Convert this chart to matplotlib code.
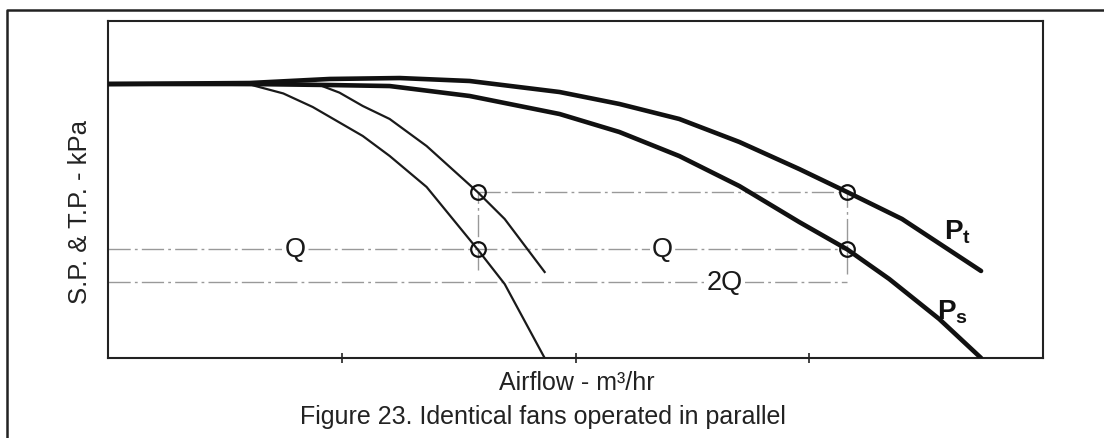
import matplotlib
matplotlib.use("Agg")
import matplotlib.pyplot as plt
from matplotlib.lines import Line2D

plt.rcParams['font.family'] = ['Liberation Sans', 'DejaVu Sans']
plt.rcParams['mathtext.fontset'] = 'custom'
plt.rcParams['mathtext.rm'] = 'Liberation Sans'
plt.rcParams['mathtext.it'] = 'Liberation Sans'
plt.rcParams['mathtext.bf'] = 'Liberation Sans:bold'

# curve data (airflow, pressure)
one_ps_x = [0, 0.615, 0.75, 0.876, 1.090, 1.205, 1.363, 1.581, 1.697, 1.868]
one_ps_y = [3.252, 3.240, 3.14, 2.979, 2.635, 2.398, 2.030, 1.29, 0.878, 0.0]

one_pt_x = [0, 0.893, 0.99, 1.090, 1.205, 1.363, 1.581, 1.697, 1.868]
one_pt_y = [3.252, 3.252, 3.15, 2.991, 2.837, 2.516, 1.970, 1.650, 1.021]

two_pt_x = [0, 0.607, 0.949, 1.248, 1.547, 1.932, 2.188, 2.444, 2.701, 2.957, 3.162, 3.397, 3.735]
two_pt_y = [3.252, 3.264, 3.312, 3.323, 3.288, 3.157, 3.015, 2.837, 2.564, 2.243, 1.970, 1.650, 1.033]

two_ps_x = [0, 0.607, 0.949, 1.205, 1.547, 1.932, 2.188, 2.444, 2.701, 2.957, 3.162, 3.342, 3.556, 3.735]
two_ps_y = [3.252, 3.252, 3.240, 3.228, 3.110, 2.896, 2.682, 2.397, 2.041, 1.614, 1.29, 0.938, 0.463, 0.0]

# operating points
q_single = 1.581
q_double = 3.162
p_low = 1.29
p_high = 1.970
p_2q = 0.902

fig = plt.figure(figsize=(11.04, 4.39), dpi=100)
ax = fig.add_axes([108/1104, 1 - 359/439, 935/1104, 337/439])
ax.set_xlim(0, 4)
ax.set_ylim(0, 4)

guide = dict(color='#999999', lw=1.0, ls=(0, (16, 3, 2, 3)), zorder=1)
ax.plot([0, q_double], [p_low, p_low], **guide)
ax.plot([0, q_double], [p_2q, p_2q], **guide)
ax.plot([q_single, q_double], [p_high, p_high], **guide)
ax.plot([q_single, q_single], [1.045, p_high], **guide)
ax.plot([q_double, q_double], [0.997, p_high], **guide)

ax.plot(one_ps_x, one_ps_y, color='#1a1a1a', lw=1.6, zorder=3)
ax.plot(one_pt_x, one_pt_y, color='#1a1a1a', lw=1.6, zorder=3)
ax.plot(two_pt_x, two_pt_y, color='#111111', lw=3.3, zorder=3, solid_capstyle='round')
ax.plot(two_ps_x, two_ps_y, color='#111111', lw=3.3, zorder=3, solid_capstyle='round')

ax.plot([q_single, q_single, q_double, q_double], [p_high, p_low, p_high, p_low],
        ls='none', marker='o', ms=10.5, mfc='none', mec='#111111', mew=1.6, zorder=4)

lbl = dict(fontsize=19.5, ha='center', va='center', color='#1a1a1a', zorder=2,
           bbox=dict(facecolor='white', edgecolor='none', pad=1.5))
ax.text(0.799, p_low, 'Q', **lbl)
ax.text(2.372, p_low, 'Q', **lbl)
ax.text(2.637, p_2q, '2Q', **lbl)

ax.text(3.577, 1.50, r'$\mathbf{P_t}$', fontsize=20, ha='left', va='center', color='#111111')
ax.text(3.547, 0.55, r'$\mathbf{P_s}$', fontsize=20, ha='left', va='center', color='#111111')

ax.set_xticks([1, 2, 3])
ax.set_yticks([])
ax.tick_params(axis='x', direction='inout', length=7, width=1.2, labelbottom=False, color='#222222')
for s in ax.spines.values():
    s.set_linewidth(1.5)
    s.set_color('#222222')

fig.text(80/1104, 1 - 212/439, 'S.P. & T.P. - kPa', rotation=90, fontsize=18.5,
         ha='center', va='center', color='#222222')
fig.text(577/1104, 1 - 383/439, 'Airflow - m³/hr', fontsize=18,
         ha='center', va='center', color='#222222')
fig.text(543/1104, 1 - 417/439, 'Figure 23. Identical fans operated in parallel', fontsize=18,
         ha='center', va='center', color='#222222')

# outer frame (only left and top edges are in view)
fig.add_artist(Line2D([7/1104, 7/1104, 1.0], [0.0, 1 - 11/439, 1 - 11/439],
                      transform=fig.transFigure, color='#222222', lw=1.8))

fig.savefig('out.png', dpi=100)
